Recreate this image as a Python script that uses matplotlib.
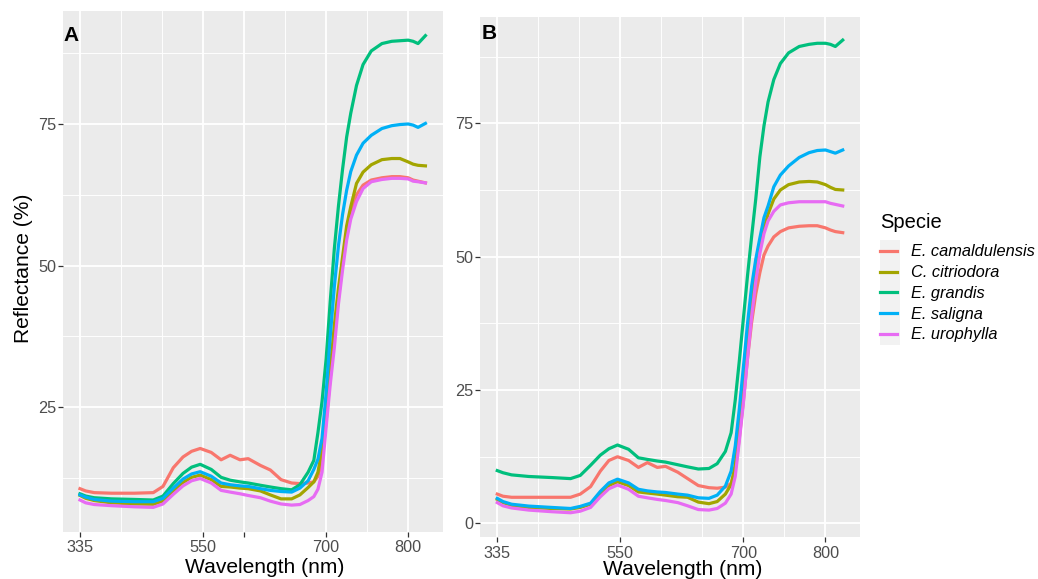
import matplotlib
matplotlib.use("Agg")
import matplotlib.pyplot as plt
import numpy as np
from matplotlib.lines import Line2D
from matplotlib.patches import Rectangle

plt.rcParams['font.family'] = ['Liberation Sans', 'DejaVu Sans']

# wavelength samples (nm) shared by every curve
WL = [335, 345, 360, 390, 430, 463, 480, 498, 515, 530,
      545, 560, 572, 583, 595, 605, 620, 632, 645, 658,
      668, 678, 685, 690, 695, 700, 705, 710, 715, 720,
      725, 730, 737, 745, 755, 768, 780, 790, 800, 806,
      812, 821]

SPECIES = ['E. camaldulensis', 'C. citriodora', 'E. grandis', 'E. saligna', 'E. urophylla']
COLOURS = ['#F8766D', '#A3A500', '#00BF7D', '#00B0F6', '#E76BF3']

# panel A reflectance (%)
CAM_A = [10.6, 10.2, 9.9, 9.8, 9.8, 9.9, 11.0, 14.3, 16.2, 17.2,
         17.7, 17.0, 15.7, 16.5, 15.7, 15.9, 14.7, 13.9, 12.2, 11.6,
         11.5, 11.6, 11.8, 12.8, 15.5, 22.5, 30.2, 37.0, 44.3, 50.3,
         55.5, 59.2, 62.5, 64.2, 65.1, 65.5, 65.7, 65.7, 65.5, 65.1,
         64.9, 64.6]
CIT_A = [9.4, 8.9, 8.5, 8.1, 7.9, 7.85, 8.4, 10.2, 11.7, 12.6,
         13.0, 12.2, 11.0, 10.9, 10.7, 10.6, 10.2, 9.5, 8.8, 8.8,
         9.5, 10.8, 11.8, 13.5, 17.5, 24.5, 31.7, 39.5, 46.0, 51.5,
         57.0, 60.4, 64.5, 66.5, 67.8, 68.7, 68.9, 68.9, 68.3, 67.9,
         67.7, 67.6]
GRA_A = [9.7, 9.3, 9.0, 8.8, 8.7, 8.6, 9.3, 11.5, 13.3, 14.4,
         14.9, 14.0, 12.6, 12.1, 11.8, 11.6, 11.2, 10.9, 10.6, 10.4,
         11.3, 13.5, 15.6, 20.5, 26.0, 33.5, 43.7, 53.0, 60.5, 67.0,
         72.7, 76.9, 81.8, 85.5, 87.9, 89.2, 89.6, 89.7, 89.8, 89.6,
         89.2, 90.6]
SAL_A = [9.5, 9.1, 8.7, 8.4, 8.3, 8.3, 8.9, 10.7, 12.3, 13.2,
         13.6, 12.8, 11.6, 11.3, 11.1, 11.0, 10.6, 10.3, 10.1, 10.0,
         10.7, 12.0, 14.0, 15.8, 19.5, 27.5, 37.5, 46.3, 53.5, 59.0,
         63.3, 66.6, 69.5, 71.6, 73.0, 74.2, 74.7, 74.9, 75.0, 74.8,
         74.4, 75.1]
URO_A = [8.6, 8.1, 7.8, 7.6, 7.4, 7.3, 7.9, 9.6, 11.1, 12.0,
         12.4, 11.6, 10.3, 10.0, 9.7, 9.4, 9.0, 8.4, 7.9, 7.7,
         7.8, 8.5, 9.2, 10.5, 13.5, 21.5, 29.0, 35.5, 43.2, 49.2,
         54.5, 58.2, 61.3, 63.6, 64.8, 65.2, 65.4, 65.4, 65.3, 64.9,
         64.8, 64.6]

# panel B reflectance (%)
CAM_B = [5.5, 5.1, 4.9, 4.9, 4.9, 4.9, 5.5, 6.9, 9.8, 11.8,
         12.5, 11.8, 10.5, 11.4, 10.5, 10.7, 9.6, 8.4, 7.1, 6.7,
         6.6, 6.8, 7.5, 10.0, 16.0, 23.0, 31.0, 37.7, 43.0, 47.0,
         50.3, 52.0, 53.7, 54.7, 55.4, 55.7, 55.8, 55.8, 55.4, 55.0,
         54.7, 54.5]
CIT_B = [4.5, 3.9, 3.4, 3.0, 2.8, 2.7, 3.0, 3.6, 5.6, 7.1,
         7.8, 7.1, 5.9, 5.7, 5.5, 5.3, 5.0, 4.9, 4.0, 3.7,
         4.1, 5.5, 7.3, 11.0, 18.5, 26.0, 34.5, 41.9, 46.5, 52.0,
         55.3, 58.0, 60.8, 62.5, 63.5, 64.0, 64.1, 64.0, 63.5, 63.0,
         62.6, 62.5]
GRA_B = [9.9, 9.5, 9.1, 8.8, 8.6, 8.4, 9.0, 10.9, 12.8, 14.0,
         14.7, 13.9, 12.3, 12.0, 11.7, 11.5, 11.0, 10.6, 10.2, 10.3,
         11.2, 13.5, 17.0, 23.1, 30.5, 38.5, 46.5, 53.8, 60.8, 68.7,
         74.5, 79.0, 83.2, 86.2, 88.2, 89.4, 89.8, 90.0, 90.0, 89.8,
         89.4, 90.6]
SAL_B = [4.7, 4.1, 3.6, 3.25, 3.0, 2.8, 3.2, 3.8, 6.0, 7.6,
         8.3, 7.6, 6.4, 6.1, 5.9, 5.8, 5.5, 5.3, 4.8, 4.7,
         5.3, 7.0, 9.8, 14.5, 21.5, 29.4, 37.5, 44.5, 49.5, 53.5,
         57.3, 59.5, 63.1, 65.3, 67.0, 68.6, 69.5, 69.9, 70.0, 69.7,
         69.4, 70.0]
URO_B = [3.9, 3.3, 2.9, 2.5, 2.2, 2.0, 2.3, 3.0, 5.0, 6.5,
         7.2, 6.4, 5.1, 4.8, 4.5, 4.3, 3.9, 3.3, 2.6, 2.5,
         2.8, 3.8, 5.5, 8.8, 15.5, 22.7, 31.0, 38.8, 45.3, 50.6,
         54.3, 56.7, 58.5, 59.7, 60.1, 60.3, 60.3, 60.3, 60.3, 60.0,
         59.8, 59.5]

PANEL_A = [CAM_A, CIT_A, GRA_A, SAL_A, URO_A]
PANEL_B = [CAM_B, CIT_B, GRA_B, SAL_B, URO_B]


# the wavelength axis is stretched differently below and above 550 nm
def fwd(w):
    w = np.asarray(w, dtype=float)
    return np.where(w < 550, (w - 335) / (215 / 3), 3 + (w - 550) / 50)


def inv(u):
    u = np.asarray(u, dtype=float)
    return np.where(u < 3, 335 + u * (215 / 3), 550 + (u - 3) * 50)


W, H = 1038, 579
fig = plt.figure(figsize=(W / 100, H / 100), dpi=100)


def px_axes(left, top, right, bottom):
    return fig.add_axes([left / W, 1 - bottom / H, (right - left) / W, (bottom - top) / H])


def style_panel(ax, ylim, yticks, xticks, xlabels, xminor):
    ax.set_facecolor('#EBEBEB')
    for s in ax.spines.values():
        s.set_visible(False)
    ax.set_xscale('function', functions=(fwd, inv))
    ax.set_xlim(inv(-0.421), inv(8.841))
    ax.set_ylim(*ylim)
    ax.set_xticks(xticks, xlabels)
    ax.set_xticks(xminor, minor=True)
    ax.set_yticks(yticks, [str(t) for t in yticks])
    ax.set_yticks([12.5, 37.5, 62.5, 87.5], minor=True)
    ax.grid(which='major', color='white', lw=1.3)
    ax.grid(which='minor', color='white', lw=0.65)
    ax.set_axisbelow(True)
    ax.tick_params(which='major', length=3.5, width=0.9, color='#333333',
                   labelcolor='#4D4D4D', labelsize=11.7)
    ax.tick_params(axis='x', which='major', pad=2.5)
    ax.tick_params(axis='y', which='major', pad=1)
    ax.tick_params(which='minor', length=0)


def draw_curves(ax, panel):
    for vals, col in zip(panel, COLOURS):
        ax.plot(WL, vals, color=col, lw=2.3, solid_joinstyle='round')


axA = px_axes(62.7, 11, 442.7, 532)
style_panel(axA, (2.95, 94.95), [25, 50, 75], [335, 550, 600, 700, 800],
            ['335', '550', '', '700', '800'], [406.67, 478.33, 650, 750])
draw_curves(axA, PANEL_A)

axB = px_axes(480, 16.6, 860, 537.3)
style_panel(axB, (-2.6, 95.0), [0, 25, 50, 75], [335, 550, 700, 800],
            ['335', '550', '700', '800'], [406.67, 478.33, 600, 650, 750])
draw_curves(axB, PANEL_B)

# titles and panel letters
fig.text(265 / W, 1 - 573 / H, 'Wavelength (nm)', ha='center', va='baseline', fontsize=15.1)
fig.text(683 / W, 1 - 575 / H, 'Wavelength (nm)', ha='center', va='baseline', fontsize=15.1)
fig.text(24 / W, 1 - 268 / H, 'Reflectance (%)', ha='center', va='center',
         rotation=90, fontsize=15.1)
fig.text(63 / W, 1 - 40.7 / H, 'A', ha='left', va='baseline', fontsize=15, fontweight='bold')
fig.text(482 / W, 1 - 38.8 / H, 'B', ha='left', va='baseline', fontsize=15, fontweight='bold')

# legend
fig.text(880 / W, 1 - 222 / H, 'Specie', ha='left', va='center', fontsize=14.5)
fig.patches.append(Rectangle((880 / W, 1 - 345 / H), 20 / W, 105 / H,
                             transform=fig.transFigure, facecolor='#F2F2F2',
                             edgecolor='none', zorder=0))
handles = [Line2D([], [], color=c, lw=2.3) for c in COLOURS]
leg = fig.legend(handles, SPECIES, loc='upper left',
                 bbox_to_anchor=(880 / W, 1 - 244.5 / H), frameon=False,
                 prop={'style': 'italic', 'size': 11.8},
                 handlelength=1.05, handletextpad=0.85, labelspacing=0.35,
                 borderpad=0, borderaxespad=0)

fig.savefig('out.png', dpi=100)
